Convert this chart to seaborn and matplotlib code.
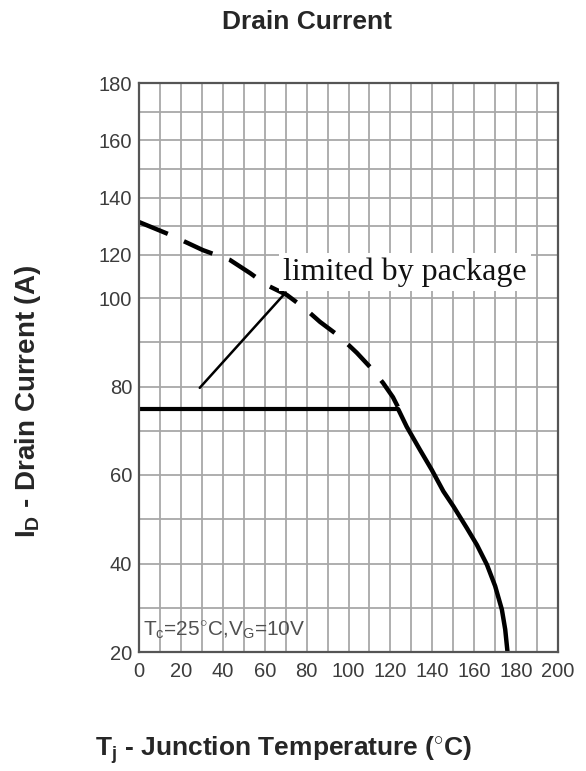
import numpy as np
import matplotlib
matplotlib.use("Agg")
import matplotlib.pyplot as plt
import seaborn as sns

# values
dash_temp = [0, 15, 30.5, 43.4, 53, 61, 70.6, 79, 86.4, 96, 104, 110.3, 116.5, 121.2, 124]
dash_current = [131.5, 127, 121.7, 117.7, 111.6, 106, 101.4, 97.7, 94.6, 91.2, 87.6,
                84.4, 80.8, 77.6, 75]

solid_temp = [123.8, 127.8, 134.1, 139.7, 145.3, 150.1, 156.5, 161.3, 166.1, 170,
              173.2, 174.8, 175.9]
solid_current = [74.8, 70.9, 65.7, 61.2, 56.3, 52.9, 48, 44.2, 39.7, 34.9, 29.6, 25.1, 20]

limit_temp = [0, 123.8]
limit_current = [75, 75]

pointer_temp = [29, 70]
pointer_current = [79.7, 102.5]

x_ticks = [0, 20, 40, 60, 80, 100, 120, 140, 160, 180, 200]
y_ticks = [20, 40, 60, 80, 100, 120, 140, 160, 180]
y_minor = [30, 50, 70, 90, 130, 150, 170]

# the scanned axis is not uniform: piecewise linear scale
y_bp = [20, 100, 120, 180]
px_bp = [0, 354, 397, 569]


def fwd(y):
    return np.interp(y, y_bp, px_bp)


def inv(p):
    return np.interp(p, px_bp, y_bp)


sns.set_theme(style="white")
plt.rcParams["font.family"] = ["Liberation Sans", "DejaVu Sans"]
plt.rcParams["mathtext.fontset"] = "custom"
plt.rcParams["mathtext.rm"] = "Liberation Sans"
plt.rcParams["mathtext.bf"] = "Liberation Sans:bold"
plt.rcParams["mathtext.it"] = "Liberation Sans"

fig = plt.figure(figsize=(5.86, 7.71), dpi=100)
ax = fig.add_axes([139 / 586, 1 - 652 / 771, 419 / 586, 569 / 771])
ax.set_yscale("function", functions=(fwd, inv))

sns.lineplot(x=dash_temp, y=dash_current, ax=ax, color="black", lw=3.2,
             linestyle=(0, (7, 4)))
sns.lineplot(x=solid_temp, y=solid_current, ax=ax, color="black", lw=3.2)
sns.lineplot(x=limit_temp, y=limit_current, ax=ax, color="black", lw=3.0)
sns.lineplot(x=pointer_temp, y=pointer_current, ax=ax, color="black", lw=1.8)

ax.set_xlim(0, 200)
ax.set_ylim(20, 180)
ax.set_xticks(x_ticks)
ax.set_xticks(np.arange(10, 200, 20), minor=True)
ax.set_yticks(y_ticks)
ax.set_yticks(y_minor, minor=True)
ax.set_yticklabels([str(v) for v in y_ticks])
ax.set_xticklabels([str(v) for v in x_ticks])
ax.grid(True, which="both", color="#a8a8a8", lw=1.3)
ax.set_axisbelow(True)
ax.tick_params(which="both", length=0, labelsize=14.5, labelcolor="#3c3c3c")
ax.tick_params(axis="x", pad=7)
ax.tick_params(axis="y", pad=5)
for s in ax.spines.values():
    s.set_color("#555555")
    s.set_linewidth(1.6)

ax.text(68.7, 112, "limited by package", family="Liberation Serif",
        fontsize=23, va="center", ha="left", color="#111111",
        bbox=dict(facecolor="white", edgecolor="none", pad=3))
ax.text(2, 22.3, r"T$_{\rm c}$=25$^{\circ}$C,V$_{\rm G}$=10V", fontsize=15,
        color="#505050", va="bottom", ha="left")

ax.set_title("Drain Current", fontsize=19, fontweight="bold", x=0.4, y=1.08)
ax.set_xlabel(r"T$_{\mathbf{j}}$ - Junction Temperature ($^{\circ}$C)",
              fontsize=19, fontweight="bold")
ax.xaxis.set_label_coords(0.345, -0.145)
ax.set_ylabel(r"I$_{\mathbf{D}}$ - Drain Current (A)", fontsize=20, fontweight="bold")
ax.yaxis.set_label_coords(-0.23, 0.44)

fig.savefig("out.png", dpi=100)
